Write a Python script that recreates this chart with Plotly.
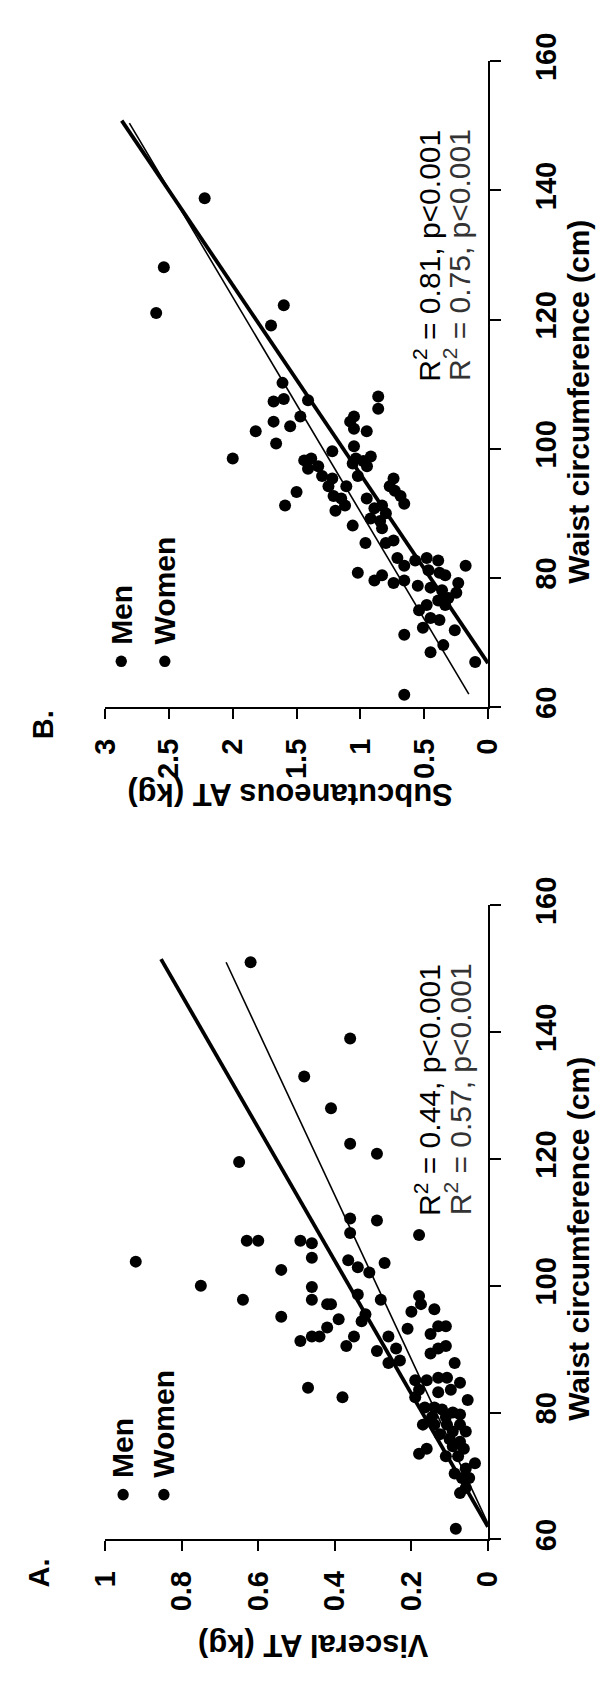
import plotly.graph_objects as go

# ---- Panel A: visceral adipose tissue vs waist circumference ----
waist_a = [151, 139, 133, 128, 122.4, 120.8, 119.5, 110.3, 110.6, 108.3, 108, 107.1, 107.1, 107.1,
           106.7, 103.8, 104.4, 102.5, 104, 102.9, 102.1, 103.6, 100, 99.8, 97.8, 97.8, 97.1, 97.1,
           98.6, 97.8, 95.5, 98.4, 97.1, 96.3, 95.9, 95.1, 94.7, 93.4, 94.4, 91.3, 92, 92, 90.5, 92,
           92, 93.2, 92.4, 93.6, 93.6, 89.7, 90.1, 88.2, 87.8, 89.3, 90.1, 90.5, 87.8, 83.9, 82.4,
           85.1, 85.1, 85.5, 85.5, 84.7, 83.6, 83.2, 83.6, 82.4, 82, 80.8, 80.8, 80.5, 80, 79.7, 79.3,
           79.3, 78.1, 78.1, 78.1, 78.1, 77, 77, 76.6, 75.8, 75.4, 74.3, 74.7, 74.3, 73.5, 73.1, 73.1,
           72, 71.2, 70.4, 69.7, 69.7, 68.1, 67.3, 61.7]
visceral_a = [0.62, 0.36, 0.48, 0.41, 0.36, 0.29, 0.65, 0.29, 0.36, 0.36, 0.18, 0.60, 0.63, 0.49,
              0.46, 0.92, 0.46, 0.54, 0.365, 0.34, 0.31, 0.27, 0.75, 0.46, 0.64, 0.46, 0.42, 0.41,
              0.34, 0.28, 0.32, 0.18, 0.175, 0.14, 0.20, 0.54, 0.39, 0.42, 0.33, 0.49, 0.46, 0.44, 0.37,
              0.35, 0.26, 0.21, 0.15, 0.13, 0.11, 0.29, 0.24, 0.23, 0.26, 0.15, 0.13, 0.11, 0.087, 0.47,
              0.38, 0.19, 0.16, 0.13, 0.107, 0.073, 0.097, 0.13, 0.18, 0.19, 0.053, 0.165, 0.14, 0.12,
              0.092, 0.073, 0.11, 0.146, 0.17, 0.14, 0.107, 0.073, 0.092, 0.058, 0.126, 0.10, 0.073,
              0.16, 0.092, 0.063, 0.18, 0.11, 0.078, 0.034, 0.058, 0.087, 0.068, 0.049, 0.058, 0.073,
              0.084]
# regression lines (waist end points, fitted values)
fit_a_waist_men = [62.0, 151.5]
fit_a_vat_men = [0.0, 0.854]
fit_a_waist_women = [62.5, 151.0]
fit_a_vat_women = [0.0, 0.684]
stats_a = ["R<sup>2</sup> = 0.44, p&lt;0.001", "R<sup>2</sup> = 0.57, p&lt;0.001"]

# ---- Panel B: subcutaneous adipose tissue vs waist circumference ----
waist_b = [138.8, 128.1, 121, 122.2, 119.1, 98.5, 102.7, 104.2, 100.8, 110.2, 107.3, 107.7, 103.5,
           105, 107.5, 91.2, 93.3, 98.2, 98.5, 96.9, 97.3, 95.8, 95.4, 94.2, 92.7, 92.3, 90.4, 91.2,
           88.1, 99.6, 104.2, 103.1, 105, 102.7, 100.4, 98.5, 98.1, 97.3, 98.8, 97.7, 94.2, 95.8,
           108.1, 106.2, 92.3, 90.8, 91.2, 94.2, 95.4, 93.5, 92.7, 91.5, 89.2, 88.8, 90, 87.7, 85.8,
           85.4, 85.4, 80.8, 83.1, 81.9, 82.7, 83.1, 81.2, 80.8, 82.7, 81.9, 80.4, 79.6, 79.2, 80.4,
           79.6, 78.8, 78.5, 78.1, 79.2, 77.7, 76.9, 75.8, 76.5, 75.8, 75, 73.8, 73.5, 72.3, 71.9,
           71.2, 69.6, 68.5, 67, 61.9]
subcut_b = [2.22, 2.54, 2.60, 1.60, 1.70, 2.0, 1.82, 1.68, 1.66, 1.61, 1.68, 1.60, 1.55, 1.47, 1.41,
            1.59, 1.50, 1.44, 1.385, 1.41, 1.33, 1.30, 1.22, 1.25, 1.21, 1.15, 1.195, 1.12, 1.06, 1.22,
            1.08, 1.05, 1.05, 0.95, 1.05, 1.035, 0.977, 0.948, 0.918, 1.06, 1.11, 1.02, 0.86, 0.86,
            0.95, 0.89, 0.83, 0.77, 0.74, 0.73, 0.685, 0.656, 0.92, 0.845, 0.80, 0.83, 0.74, 0.80,
            0.96, 1.02, 0.71, 0.656, 0.57, 0.48, 0.466, 0.38, 0.39, 0.175, 0.335, 0.656, 0.74, 0.83,
            0.89, 0.55, 0.45, 0.36, 0.233, 0.248, 0.31, 0.335, 0.39, 0.48, 0.54, 0.45, 0.38, 0.51,
            0.26, 0.656, 0.35, 0.45, 0.10, 0.656]
fit_b_waist_men = [66.8, 150.8]
fit_b_sat_men = [0.0, 2.87]
fit_b_waist_women = [62.0, 150.4]
fit_b_sat_women = [0.15, 2.81]
stats_b = ["R<sup>2</sup> = 0.81, p&lt;0.001", "R<sup>2</sup> = 0.75, p&lt;0.001"]

legend_labels = ["Men", "Women"]

W, H = 611, 1689
FONT = "Liberation Sans, Arial, sans-serif"


def px(x):
    return x / W


def py(y):
    return 1 - y / H


fig = go.Figure()

# The figure is laid out turned a quarter turn: waist runs up the right edge,
# fat mass runs right-to-left along the bottom of each panel.
for xa, ya, wv, fv, fw_m, ff_m, fw_w, ff_w in [
    ("x", "y", waist_a, visceral_a, fit_a_waist_men, fit_a_vat_men, fit_a_waist_women, fit_a_vat_women),
    ("x2", "y2", waist_b, subcut_b, fit_b_waist_men, fit_b_sat_men, fit_b_waist_women, fit_b_sat_women),
]:
    fig.add_trace(go.Scatter(x=fv, y=wv, mode="markers", xaxis=xa, yaxis=ya,
                             marker=dict(size=12, color="black"), showlegend=False))
    fig.add_trace(go.Scatter(x=ff_m, y=fw_m, mode="lines", xaxis=xa, yaxis=ya,
                             line=dict(color="black", width=3.8), showlegend=False))
    fig.add_trace(go.Scatter(x=ff_w, y=fw_w, mode="lines", xaxis=xa, yaxis=ya,
                             line=dict(color="black", width=1.6), showlegend=False))

tickfont = dict(family=FONT, size=29, color="black", weight="bold")
xcommon = dict(showgrid=False, zeroline=False, showline=True, linecolor="black", linewidth=2,
               ticks="outside", ticklen=10, tickwidth=2, tickcolor="black", tickangle=-90,
               tickfont=tickfont, ticklabelstandoff=8, side="bottom")
ycommon = dict(showgrid=False, zeroline=False, showline=True, linecolor="black", linewidth=2,
               ticks="outside", ticklen=11, tickwidth=2, tickcolor="black", tickangle=-90,
               tickfont=tickfont, side="right", range=[60, 160], dtick=20, ticklabelstandoff=20)

fig.update_layout(
    width=W, height=H, margin=dict(l=0, r=0, t=0, b=0),
    paper_bgcolor="white", plot_bgcolor="white", showlegend=False,
    xaxis=dict(xcommon, domain=[px(93), px(497)], range=[1, 0], dtick=0.2, anchor="y"),
    yaxis=dict(ycommon, domain=[py(1548), py(898)], anchor="x"),
    xaxis2=dict(xcommon, domain=[px(93), px(497)], range=[3, 0], dtick=0.5, anchor="y2"),
    yaxis2=dict(ycommon, domain=[py(695), py(33)], anchor="x2"),
)

ann = []
shapes = []


def text(x, y, s, size, angle, bold=True, color="black", xa="center", ya="middle"):
    ann.append(dict(x=px(x), y=py(y), xref="paper", yref="paper", text=s, showarrow=False,
                    textangle=angle, xanchor=xa, yanchor=ya,
                    font=dict(family=FONT, size=size, color=color,
                              weight="bold" if bold else "normal")))


def key(x, y, label):
    # legend entry: a dot followed by its label, reading upwards
    r = 6
    shapes.append(dict(type="circle", xref="paper", yref="paper",
                       x0=px(x - r), x1=px(x + r), y0=py(y + r), y1=py(y - r),
                       fillcolor="black", line=dict(width=0)))
    text(x, y - 15, label, 30, -90, ya="bottom")


# panel A labels
text(23, 1582, "A.", 29, -90)
key(112, 1502, legend_labels[0])
key(155, 1502, legend_labels[1])
text(433, 1087, stats_a[0], 30, -90, bold=False)
text(465, 1087, stats_a[1], 30, -90, bold=False, color="#333333")
text(313, 1656, "Visceral AT (kg)", 31, 180)
text(593, 1240, "Waist circumference (cm)", 30, -90)

# panel B labels
text(27, 713, "B.", 29, -90)
key(110, 648, legend_labels[0])
key(156, 648, legend_labels[1])
text(433, 232, stats_b[0], 30, -90, bold=False)
text(465, 232, stats_b[1], 30, -90, bold=False, color="#333333")
text(288, 784, "Subcutaneous AT (kg)", 31, 180)
text(593, 382, "Waist circumference (cm)", 30, -90)

fig.update_layout(annotations=ann, shapes=shapes)
fig.write_html("out.html")
